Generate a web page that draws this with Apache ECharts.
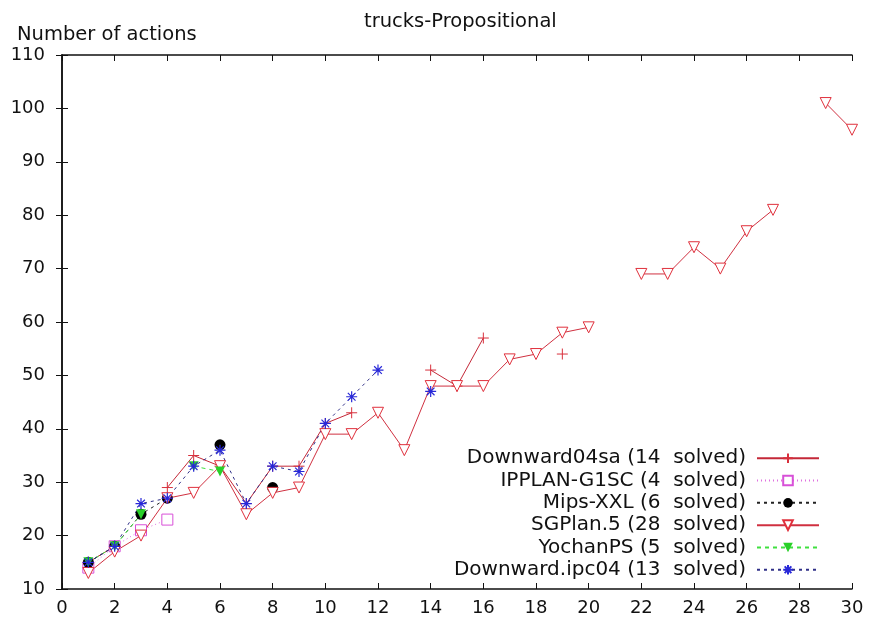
<!DOCTYPE html>
<html>
<head>
<meta charset="utf-8">
<script src="https://cdn.jsdelivr.net/npm/echarts@6/dist/echarts.min.js"></script>
<style>
  html, body { margin: 0; padding: 0; background: #fff; }
  #chart { width: 870px; height: 623px; }
</style>
</head>
<body>
<div id="chart"></div>
<script>
// problem numbers on the x axis
const problems = [1, 2, 3, 4, 5, 6, 7, 8, 9, 10, 11, 12, 13, 14, 15,
                  16, 17, 18, 19, 20, 21, 22, 23, 24, 25, 26, 27, 28, 29, 30];

// plan lengths, null = not solved
const downward04sa = [15, 18, null, 29, 35, 33, 26, 33, 33, 41, 43, null, null, 51, 48, 57, null, null, 54];
const ipplan = [14, 18, 21, 23];
const mipsXXL = [15, 18, 24, 27, null, 37, null, 29];
const sgplan5 = [13, 17, 20, 27, 28, 33, 24, 28, 29, 39, 39, 43, 36, 48, 48, 48, 53, 54, 58, 59,
                 null, 69, 69, 74, 70, 77, 81, null, 101, 96];
const yochanPS = [15, 18, 24, null, 33, 32];
const downwardIpc04 = [15, 18, 26, 27, 33, 36, 26, 33, 32, 41, 46, 51, null, 47];

const seriesNames = [
  'Downward04sa (14  solved)',
  'IPPLAN-G1SC (4  solved)',
  'Mips-XXL (6  solved)',
  'SGPlan.5 (28  solved)',
  'YochanPS (5  solved)',
  'Downward.ipc04 (13  solved)'
];

const toPairs = (arr) => problems.map((p, i) => [p, arr[i] == null ? '-' : arr[i]]);

const PLUS = 'path://M0,5L10,5M5,0L5,10';
const STAR = 'path://M0,5L10,5M5,0L5,10M1.5,1.5L8.5,8.5M8.5,1.5L1.5,8.5';

const font = 'DejaVu Sans, sans-serif';

const chart = echarts.init(document.getElementById('chart'));

const option = {
  backgroundColor: '#fff',
  animation: false,
  title: [
    {
      text: 'trucks-Propositional',
      left: 359,
      top: 7,
      textStyle: { fontFamily: font, fontSize: 19.5, fontWeight: 'normal', color: '#111' }
    },
    {
      text: 'Number of actions',
      left: 12,
      top: 20,
      textStyle: { fontFamily: font, fontSize: 19.5, fontWeight: 'normal', color: '#111' }
    }
  ],
  legend: {
    orient: 'vertical',
    align: 'right',
    right: 45,
    top: 443,
    itemWidth: 62,
    itemHeight: 12,
    itemGap: 1.8,
    textStyle: { fontFamily: font, fontSize: 20, color: '#111', lineHeight: 20.5, padding: [0, 6, 0, 0] },
    data: seriesNames
  },
  grid: { left: 62, right: 18, top: 55, bottom: 34 },
  xAxis: [
    {
      type: 'value', min: 0, max: 30, interval: 2,
      axisLine: { lineStyle: { color: '#111', width: 1.5 } },
      axisTick: { inside: true, length: 6, lineStyle: { color: '#111' } },
      axisLabel: { fontFamily: font, fontSize: 18, color: '#111', margin: 10 },
      splitLine: { show: false }
    },
    {
      type: 'value', min: 0, max: 30, interval: 2, position: 'top',
      axisLine: { lineStyle: { color: '#111', width: 1.5 } },
      axisTick: { inside: true, length: 6, lineStyle: { color: '#111' } },
      axisLabel: { show: false },
      splitLine: { show: false }
    }
  ],
  yAxis: [
    {
      type: 'value', min: 10, max: 110, interval: 10,
      axisLine: { show: true, lineStyle: { color: '#111', width: 1.5 } },
      axisTick: { show: true, inside: true, length: 6, lineStyle: { color: '#111' } },
      axisLabel: { fontFamily: font, fontSize: 18, color: '#111', margin: 17 },
      splitLine: { show: false }
    },
    {
      type: 'value', min: 10, max: 110, interval: 10, position: 'right',
      axisLine: { show: true, lineStyle: { color: '#111', width: 1.5 } },
      axisTick: { show: true, inside: true, length: 6, lineStyle: { color: '#111' } },
      axisLabel: { show: false },
      splitLine: { show: false }
    }
  ],
  series: [
    {
      name: seriesNames[0], type: 'line', data: toPairs(downward04sa),
      symbol: PLUS, symbolSize: 11,
      itemStyle: { color: 'none', borderColor: '#d8303c', borderWidth: 1 },
      lineStyle: { color: '#c42838', width: 1 }
    },
    {
      name: seriesNames[1], type: 'line', data: toPairs(ipplan),
      symbol: 'rect', symbolSize: 11,
      itemStyle: { color: '#fff', borderColor: '#d850d8', borderWidth: 1 },
      lineStyle: { color: '#e070e0', width: 1, type: [1, 3] }
    },
    {
      name: seriesNames[2], type: 'line', data: toPairs(mipsXXL),
      symbol: 'circle', symbolSize: 11,
      itemStyle: { color: '#000', borderColor: '#000', borderWidth: 0 },
      lineStyle: { color: '#222', width: 1, type: [3, 4] }
    },
    {
      name: seriesNames[3], type: 'line', data: toPairs(sgplan5),
      symbol: 'triangle', symbolRotate: 180, symbolSize: 11,
      itemStyle: { color: '#fff', borderColor: '#e0303c', borderWidth: 1 },
      lineStyle: { color: '#d03040', width: 1 }
    },
    {
      name: seriesNames[4], type: 'line', data: toPairs(yochanPS),
      symbol: 'triangle', symbolRotate: 180, symbolSize: 10,
      itemStyle: { color: '#28d028', borderColor: '#28d028', borderWidth: 0 },
      lineStyle: { color: '#40e040', width: 1, type: [4, 4] }
    },
    {
      name: seriesNames[5], type: 'line', data: toPairs(downwardIpc04),
      symbol: STAR, symbolSize: 11,
      itemStyle: { color: 'none', borderColor: '#2828d8', borderWidth: 1.2 },
      lineStyle: { color: '#303088', width: 1, type: [3, 4] }
    }
  ]
};

chart.setOption(option);
</script>
</body>
</html>
